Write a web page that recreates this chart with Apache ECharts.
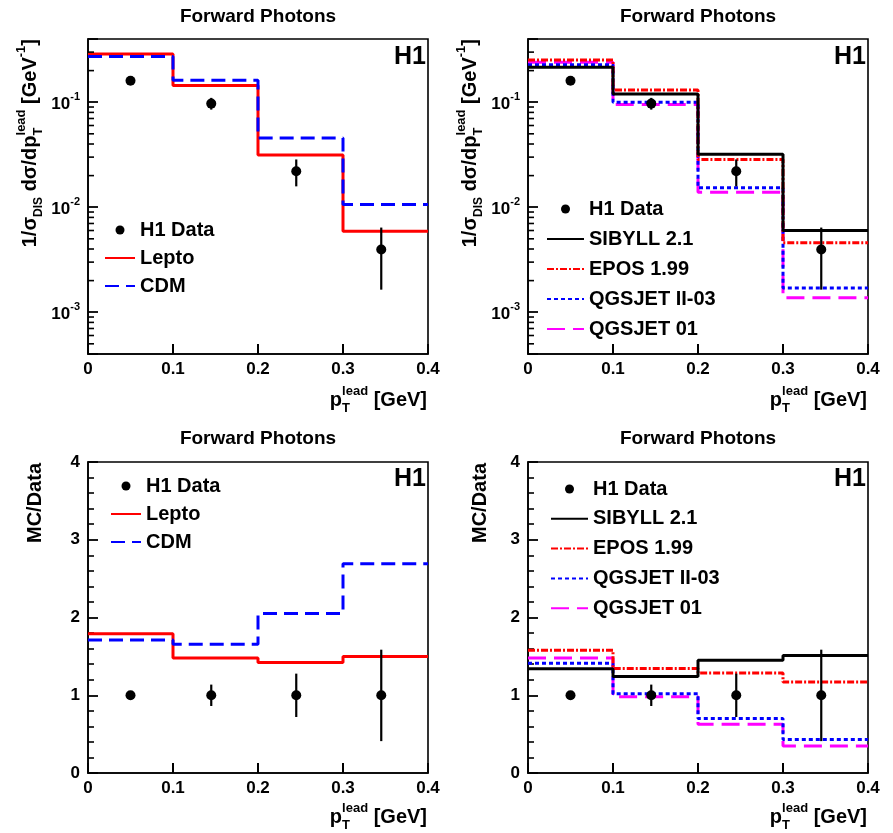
<!DOCTYPE html>
<html><head><meta charset="utf-8">
<script src="https://cdn.jsdelivr.net/npm/echarts@6/dist/echarts.min.js"></script>
<style>html,body{margin:0;padding:0;background:#fff}#c{width:893px;height:833px}</style>
</head><body><div id="c"></div>
<script>
// ---------------- data ----------------
const binEdges = [0, 0.1, 0.2, 0.3, 0.4];
const dataX = [0.05, 0.145, 0.245, 0.345];
// normalised cross section (top panels)
const dataXsec   = [0.16, 0.097, 0.022, 0.00395];
const dataXsecHi = [0.168, 0.110, 0.0285, 0.0064];
const dataXsecLo = [0.152, 0.085, 0.0158, 0.00164];
const leptoXsec  = [0.288, 0.144, 0.0315, 0.0059];
const cdmXsec    = [0.272, 0.162, 0.0457, 0.0106];
const sibyllXsec = [0.215, 0.120, 0.032, 0.0060];
const eposXsec   = [0.253, 0.131, 0.0285, 0.0046];
const qgsIIXsec  = [0.227, 0.100, 0.0153, 0.0017];
const qgs01Xsec  = [0.240, 0.095, 0.0139, 0.00137];
// MC/Data ratios (bottom panels)
const dataRatio   = [1, 1, 1, 1];
const dataRatioHi = [1.053, 1.137, 1.278, 1.586];
const dataRatioLo = [0.947, 0.862, 0.72, 0.41];
const leptoRatio  = [1.79, 1.48, 1.42, 1.50];
const cdmRatio    = [1.71, 1.655, 2.05, 2.69];
const sibyllRatio = [1.34, 1.24, 1.45, 1.51];
const eposRatio   = [1.58, 1.345, 1.286, 1.17];
const qgsIIRatio  = [1.41, 1.02, 0.70, 0.43];
const qgs01Ratio  = [1.48, 0.98, 0.626, 0.347];
// axis ticks
const xTicks = [0, 0.1, 0.2, 0.3, 0.4];
const ratioTicks = [0, 1, 2, 3, 4];
const logMantissas = [2, 3, 4, 5, 6, 7, 8, 9];
const logExponents = [-4, -3, -2, -1];
const logMin = 0.0004, logMax = 0.4;

// ---------------- helpers ----------------
const FONT = '"Liberation Sans", Arial, Helvetica, sans-serif';
const TICKC = '#000';
function rs(size, va, extra) {
  return Object.assign({fontSize: size, fontWeight: 'bold', fontFamily: FONT, fill: '#000', color: '#000', align: 'left', verticalAlign: va || 'middle'}, extra || {});
}
const logMinorTicks = [];
logExponents.forEach(e => logMantissas.forEach(m => {
  const v = m * Math.pow(10, e);
  if (v > logMin * 1.0001 && v < logMax * 0.9999) logMinorTicks.push(v);
}));

function stepData(vals) {
  const pts = [];
  vals.forEach((v, i) => { pts.push([binEdges[i], v]); pts.push([binEdges[i + 1], v]); });
  return pts;
}
function stepSeries(name, vals, g, color, type, width) {
  return {
    name: name, type: 'line', xAxisIndex: g, yAxisIndex: g, data: stepData(vals),
    symbol: 'none', clip: true, animation: false, z: 2,
    lineStyle: {color: color, width: width || 3, type: type || 'solid'},
    itemStyle: {color: color}
  };
}
function errSeries(xs, lo, hi, g) {
  return {
    type: 'custom', xAxisIndex: g, yAxisIndex: g, silent: true, animation: false, z: 3,
    data: xs.map((x, i) => [x, lo[i], hi[i]]),
    encode: {x: 0, y: [1, 2]},
    renderItem: function (params, api) {
      const x = api.value(0);
      const p1 = api.coord([x, api.value(1)]);
      const p2 = api.coord([x, api.value(2)]);
      return {type: 'line', shape: {x1: p1[0], y1: p1[1], x2: p2[0], y2: p2[1]}, style: {stroke: '#000', lineWidth: 2.2}};
    }
  };
}
function dataSeries(xs, ys, g) {
  return {
    name: 'H1 Data', type: 'scatter', xAxisIndex: g, yAxisIndex: g, data: xs.map((x, i) => [x, ys[i]]),
    symbol: 'circle', symbolSize: 10, itemStyle: {color: '#000', opacity: 1}, z: 4, animation: false
  };
}
// log-axis minor ticks (2..9 x 10^n), drawn inward from the y axis
function minorTickSeries(g) {
  return {
    type: 'custom', xAxisIndex: g, yAxisIndex: g, silent: true, animation: false, z: 5, clip: false,
    data: logMinorTicks.map(v => [xTicks[0], v]),
    encode: {x: 0, y: 1},
    renderItem: function (params, api) {
      const p = api.coord([api.value(0), api.value(1)]);
      return {type: 'line', shape: {x1: p[0], y1: p[1], x2: p[0] + 6, y2: p[1]}, style: {stroke: TICKC, lineWidth: 1.6}};
    }
  };
}
// x-axis major ticks drawn inward (upwards) from the x axis
function xTickSeries(g, yBase) {
  return {
    type: 'custom', xAxisIndex: g, yAxisIndex: g, silent: true, animation: false, z: 10, clip: false,
    data: xTicks.slice(1, -1).map(x => [x, yBase]),
    encode: {x: 0, y: 1},
    renderItem: function (params, api) {
      const p = api.coord([api.value(0), api.value(1)]);
      return {type: 'line', shape: {x1: p[0], y1: p[1], x2: p[0], y2: p[1] - 10}, style: {stroke: TICKC, lineWidth: 2}};
    }
  };
}

const gridBoxes = [
  {left: 88, top: 39, width: 340, height: 315},
  {left: 528, top: 39, width: 340, height: 315},
  {left: 88, top: 462, width: 340, height: 311},
  {left: 528, top: 462, width: 340, height: 311}
];
const axisLine = () => ({show: true, onZero: false, lineStyle: {color: '#000', width: 1.6}});
const axisTick = () => ({show: true, inside: true, length: 10, lineStyle: {color: TICKC, width: 1.8}});

const xAxes = gridBoxes.map((b, i) => ({
  gridIndex: i, type: 'value', min: xTicks[0], max: xTicks[xTicks.length - 1], interval: 0.1,
  axisLine: axisLine(), axisTick: axisTick(), splitLine: {show: false},
  axisLabel: {margin: 7, color: '#000', fontSize: 17, fontWeight: 'bold', fontFamily: FONT,
    formatter: v => (v === 0 ? '0' : v.toFixed(1))}
}));
function logFmt(v) {
  const e = Math.log10(v);
  if (Math.abs(e - Math.round(e)) > 1e-6) return '';
  return '{b|10}{e|' + Math.round(e) + '}';
}
const logAxis = g => ({
  gridIndex: g, type: 'log', logBase: 10, min: logMin, max: logMax,
  axisLine: axisLine(), axisTick: axisTick(), splitLine: {show: false}, minorTick: {show: false},
  axisLabel: {margin: 8, formatter: logFmt, color: '#000',
    rich: {b: rs(17, 'bottom', {lineHeight: 22}), e: rs(11, 'top', {lineHeight: 22})}}
});
const ratioAxis = g => ({
  gridIndex: g, type: 'value', min: ratioTicks[0], max: ratioTicks[ratioTicks.length - 1], interval: 1,
  axisLine: axisLine(), axisTick: axisTick(), splitLine: {show: false},
  minorTick: {show: true, splitNumber: 5, length: 6, lineStyle: {color: TICKC, width: 1.6}},
  axisLabel: {margin: 8, color: '#000', fontSize: 17, fontWeight: 'bold', fontFamily: FONT}
});

const series = [
  stepSeries('Lepto', leptoXsec, 0, '#ff0000', 'solid'),
  stepSeries('CDM', cdmXsec, 0, '#0000ff', [14, 7]),
  errSeries(dataX, dataXsecLo, dataXsecHi, 0),
  dataSeries(dataX, dataXsec, 0),
  minorTickSeries(0),
  xTickSeries(0, logMin),
  stepSeries('QGSJET 01', qgs01Xsec, 1, '#ff00ff', [18, 8]),
  stepSeries('QGSJET II-03', qgsIIXsec, 1, '#0000ff', [4, 3]),
  stepSeries('EPOS 1.99', eposXsec, 1, '#ff0000', [7, 2, 2, 2]),
  stepSeries('SIBYLL 2.1', sibyllXsec, 1, '#000000', 'solid'),
  errSeries(dataX, dataXsecLo, dataXsecHi, 1),
  dataSeries(dataX, dataXsec, 1),
  minorTickSeries(1),
  xTickSeries(1, logMin),
  stepSeries('Lepto', leptoRatio, 2, '#ff0000', 'solid'),
  stepSeries('CDM', cdmRatio, 2, '#0000ff', [14, 7]),
  errSeries(dataX, dataRatioLo, dataRatioHi, 2),
  dataSeries(dataX, dataRatio, 2),
  xTickSeries(2, ratioTicks[0]),
  stepSeries('QGSJET 01', qgs01Ratio, 3, '#ff00ff', [18, 8]),
  stepSeries('QGSJET II-03', qgsIIRatio, 3, '#0000ff', [4, 3]),
  stepSeries('EPOS 1.99', eposRatio, 3, '#ff0000', [7, 2, 2, 2]),
  stepSeries('SIBYLL 2.1', sibyllRatio, 3, '#000000', 'solid'),
  errSeries(dataX, dataRatioLo, dataRatioHi, 3),
  dataSeries(dataX, dataRatio, 3),
  xTickSeries(3, ratioTicks[0])
];

const legendText = {fontSize: 20, fontWeight: 'bold', fontFamily: FONT, color: '#000'};
function legendData(names) {
  return names.map(n => (n === 'H1 Data' ? {name: n} : {name: n, itemStyle: {opacity: 0}}));
}
const legends = [
  {left: 104, top: 220, itemWidth: 30, itemGap: 8, data: legendData(['H1 Data', 'Lepto', 'CDM'])},
  {left: 546, top: 199, itemWidth: 37, itemGap: 10, data: legendData(['H1 Data', 'SIBYLL 2.1', 'EPOS 1.99', 'QGSJET II-03', 'QGSJET 01'])},
  {left: 110, top: 476, itemWidth: 30, itemGap: 8, data: legendData(['H1 Data', 'Lepto', 'CDM'])},
  {left: 550, top: 479, itemWidth: 37, itemGap: 9.8, data: legendData(['H1 Data', 'SIBYLL 2.1', 'EPOS 1.99', 'QGSJET II-03', 'QGSJET 01'])}
].map(l => Object.assign({orient: 'vertical', itemHeight: 9, selectedMode: false, textStyle: legendText,
  lineStyle: {width: 2}, padding: 0}, l));

const richTitle = {
  n: rs(20, 'middle', {lineHeight: 30}),
  sub: rs(12, 'bottom', {lineHeight: 14}),
  subT: rs(13, 'bottom', {lineHeight: 14, width: 0.01}),
  sup: rs(13, 'top', {lineHeight: 14})
};
function txt(x, y, text, size, align, va) {
  return {type: 'text', x: x, y: y, z: 100, style: {text: text, fontSize: size, fontWeight: 'bold', fontFamily: FONT,
    fill: '#000', align: align, verticalAlign: va}};
}
function richTxt(x, y, text, align, rot) {
  return {type: 'text', x: x, y: y, rotation: rot || 0, z: 100,
    style: {text: text, rich: richTitle, fontSize: 20, fontWeight: 'bold', fontFamily: FONT, fill: '#000', align: align, verticalAlign: 'middle'}};
}
const xTitle = '{n|p}{subT|T}{sup|lead}{n| [GeV]}';
const yTitleLog = '{n|1/σ}{sub|DIS}{n| dσ/dp}{subT|T}{sup|lead}{n| [GeV}{sup|-1}{n|]}';
const yTitleRatio = '{n|MC/Data}';
const graphics = [
  txt(258, 17, 'Forward Photons', 19, 'center', 'middle'),
  txt(698, 17, 'Forward Photons', 19, 'center', 'middle'),
  txt(258, 439, 'Forward Photons', 19, 'center', 'middle'),
  txt(698, 439, 'Forward Photons', 19, 'center', 'middle'),
  txt(426, 57, 'H1', 25, 'right', 'middle'),
  txt(866, 57, 'H1', 25, 'right', 'middle'),
  txt(426, 479, 'H1', 25, 'right', 'middle'),
  txt(866, 479, 'H1', 25, 'right', 'middle'),
  richTxt(427, 400, xTitle, 'right'),
  richTxt(867, 400, xTitle, 'right'),
  richTxt(427, 817, xTitle, 'right'),
  richTxt(867, 817, xTitle, 'right'),
  richTxt(30, 39, yTitleLog, 'right', Math.PI / 2),
  richTxt(470, 39, yTitleLog, 'right', Math.PI / 2),
  richTxt(35, 463, yTitleRatio, 'right', Math.PI / 2),
  richTxt(480, 463, yTitleRatio, 'right', Math.PI / 2)
];

const chart = echarts.init(document.getElementById('c'));
chart.setOption({
  animation: false,
  backgroundColor: '#fff',
  grid: gridBoxes.map(b => Object.assign({show: true, borderColor: '#000', borderWidth: 1.6, backgroundColor: 'transparent'}, b)),
  xAxis: xAxes,
  yAxis: [logAxis(0), logAxis(1), ratioAxis(2), ratioAxis(3)],
  legend: legends,
  series: series,
  graphic: {elements: graphics}
});
</script></body></html>
